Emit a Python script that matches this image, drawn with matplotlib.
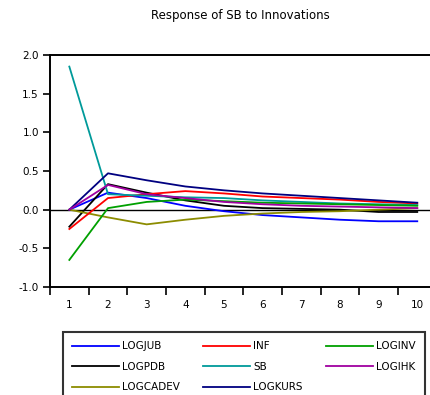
import numpy as np
import matplotlib
matplotlib.use("Agg")
import matplotlib.pyplot as plt
from matplotlib.ticker import FixedLocator

periods = np.arange(1, 11)

logjub = [0.00, 0.22, 0.15, 0.05, -0.02, -0.07, -0.10, -0.13, -0.15, -0.15]
inf = [-0.25, 0.15, 0.20, 0.24, 0.21, 0.17, 0.15, 0.13, 0.10, 0.08]
loginv = [-0.65, 0.02, 0.10, 0.13, 0.11, 0.09, 0.08, 0.07, 0.06, 0.05]
logpdb = [-0.22, 0.33, 0.22, 0.12, 0.05, 0.02, 0.01, 0.00, -0.03, -0.03]
sb = [1.85, 0.20, 0.18, 0.16, 0.15, 0.12, 0.10, 0.08, 0.07, 0.06]
logihk = [0.00, 0.32, 0.20, 0.15, 0.10, 0.07, 0.05, 0.04, 0.03, 0.02]
logcadev = [0.00, -0.10, -0.19, -0.13, -0.08, -0.05, -0.03, -0.02, 0.00, 0.02]
logkurs = [0.00, 0.47, 0.38, 0.30, 0.25, 0.21, 0.18, 0.15, 0.12, 0.09]

series = [
    ("LOGJUB", logjub, "#0000ff"),
    ("LOGPDB", logpdb, "#000000"),
    ("LOGCADEV", logcadev, "#8c8c00"),
    ("INF", inf, "#ff0000"),
    ("SB", sb, "#009a9a"),
    ("LOGKURS", logkurs, "#000080"),
    ("LOGINV", loginv, "#00a000"),
    ("LOGIHK", logihk, "#a000a0"),
]

plt.rcParams.update({"font.family": "DejaVu Sans", "font.size": 7.5})

fig = plt.figure(figsize=(4.30, 3.95), dpi=100)
ax = fig.add_axes([50 / 430, 108 / 395, 386.6 / 430, 232 / 395])

handles = []
for name, vals, color in series:
    h, = ax.plot(periods, vals, color=color, lw=1.3, label=name)
    handles.append(h)
ax.axhline(0, color="black", lw=1.0, zorder=1)

ax.set_xlim(0.5, 10.5)
ax.set_ylim(-1.0, 2.0)
ax.set_yticks(np.arange(-1.0, 2.01, 0.5))
ax.set_yticklabels([f"{v:.1f}" for v in np.arange(-1.0, 2.01, 0.5)])
ax.set_xticks(periods)
ax.xaxis.set_minor_locator(FixedLocator(np.arange(0.5, 10.6, 1.0)))
ax.tick_params(axis="x", which="major", length=0, pad=9)
ax.tick_params(axis="x", which="minor", length=6, width=1.2, direction="out")
ax.tick_params(axis="y", length=5, width=1.2, direction="out", pad=3)
for s in ax.spines.values():
    s.set_linewidth(1.4)

fig.text(240 / 430, 1 - 16 / 395, "Response of SB to Innovations",
         ha="center", va="center", fontsize=8.5)

leg = fig.legend(handles=handles, ncol=3, loc="upper left",
                 bbox_to_anchor=(63 / 430, 1 - 332 / 395, 362 / 430, 0.0),
                 mode="expand", frameon=True, fancybox=False, fontsize=7.5,
                 handlelength=4.5, handletextpad=0.3, labelspacing=1.0,
                 borderpad=0.9, borderaxespad=0)
leg.get_frame().set_edgecolor("black")
leg.get_frame().set_linewidth(1.5)

fig.savefig("out.png", dpi=100)
